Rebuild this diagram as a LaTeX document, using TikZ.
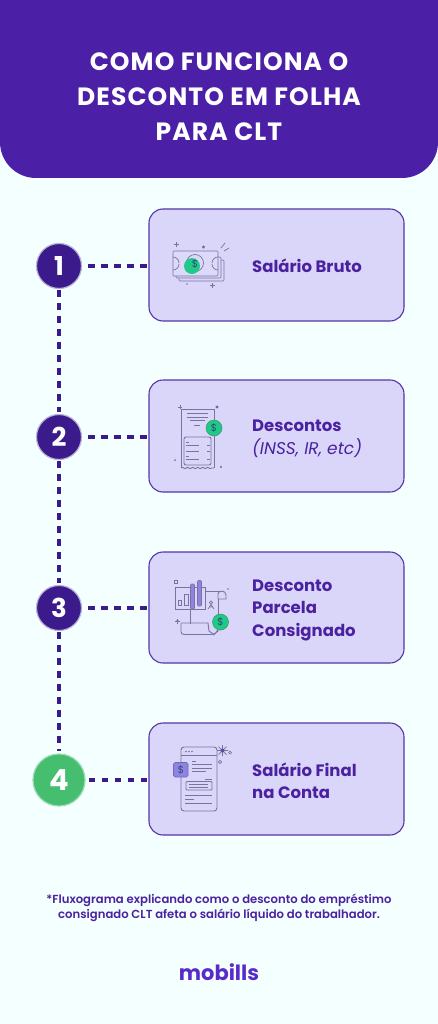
\documentclass[tikz,border=0pt]{standalone}
\usepackage{fontspec}
\setmainfont{Poppins}[BoldFont={* Bold},ItalicFont={* Italic}]
\newfontfamily\poppinsbold{Poppins Bold}
\newfontfamily\poppinstitle{Poppins Bold}[LetterSpace=4.5]
\newfontfamily\poppinssemi{Poppins SemiBold}
\usetikzlibrary{calc,decorations.pathmorphing}
\definecolor{bgc}{HTML}{F4FFFF}
\definecolor{headc}{HTML}{4B20A6}
\definecolor{cardc}{HTML}{DAD6FA}
\definecolor{edgec}{HTML}{5436A8}
\definecolor{darkc}{HTML}{3B1A8C}
\definecolor{greenc}{HTML}{45BE70}
\definecolor{icong}{HTML}{20C98A}
\definecolor{iconl}{HTML}{78749F}
\definecolor{barc}{HTML}{8E83E2}
\definecolor{textc}{HTML}{4A22A0}
\definecolor{logoc}{HTML}{5A2BCB}
\tikzset{
 cardbox/.style={draw=edgec,fill=cardc,line width=1.1pt,rounded corners=14pt,minimum width=255pt,inner sep=0pt},
 numdark/.style={circle,fill=darkc,draw=darkc!35,line width=1.2pt,minimum size=45pt,inner sep=0pt,text=white,font=\poppinsbold\fontsize{26}{26}\selectfont},
 numgreen/.style={circle,fill=greenc,draw=greenc!55,line width=1.2pt,minimum size=52pt,inner sep=0pt,text=white,font=\poppinsbold\fontsize{29}{29}\selectfont},
 link/.style={draw=darkc,line width=3.3pt,dash pattern=on 6.5pt off 6.5pt},
 label/.style={anchor=west,align=left,inner sep=0pt,text=textc,font=\fontsize{16.5}{22.5}\selectfont},
 ic/.style={draw=iconl,line width=.7pt},
 ict/.style={draw=iconl,line width=.9pt},
 dollar/.style={text=darkc!80!green,inner sep=0pt,font=\fontsize{10}{10}\selectfont},
}
\begin{document}
\begin{tikzpicture}[x=1pt,y=-1pt]
\useasboundingbox (0,0) rectangle (438,1024);
\fill[bgc] (0,0) rectangle (438,1024);
\fill[headc] (0,0) -- (438,0) -- (438,142) arc[start angle=0,end angle=90,radius=36] -- (36,178) arc[start angle=90,end angle=180,radius=36] -- cycle;
\node[text=white,align=center,font=\poppinstitle\fontsize{25}{35}\selectfont] (title) at (219,97) {COMO FUNCIONA O\\DESCONTO EM FOLHA\\PARA CLT};
% cards
\node[cardbox,minimum height=112pt] (c1) at (276.5,265) {};
\node[cardbox,minimum height=112pt] (c2) at (276.5,436) {};
\node[cardbox,minimum height=111pt] (c3) at (276.5,607.5) {};
\node[cardbox,minimum height=112pt] (c4) at (276.5,779) {};
% circles
\node[numdark] (n1) at (59,266) {1};
\node[numdark] (n2) at (59,437) {2};
\node[numdark] (n3) at (59,608) {3};
\node[numgreen] (n4) at (59,780) {4};
% connectors
\begin{scope}[shorten <=6pt]
\draw[link] (n1.east) -- (n1 -| c1.west);
\draw[link] (n2.east) -- (n2 -| c2.west);
\draw[link] (n3.east) -- (n3 -| c3.west);
\end{scope}
\draw[link,shorten <=3pt] (n4.east) -- (n4 -| c4.west);
\begin{scope}[shorten <=1pt,shorten >=2pt]
\draw[link] (n1.south) -- (n2.north);
\draw[link] (n2.south) -- (n3.north);
\draw[link] (n3.south) -- (n4.north);
\end{scope}
% labels
\node[label] (l1) at (252,265.5) {\textbf{Salário Bruto}};
\node[label] (l2) at (252,439) {\textbf{Descontos}\\{\fontsize{17}{22.5}\selectfont\textit{(INSS, IR, etc)}}};
\node[label] (l3) at (252,610) {\textbf{Desconto}\\\textbf{Parcela}\\\textbf{Consignado}};
\node[label] (l4) at (252,780.5) {\textbf{Salário Final}\\\textbf{na Conta}};
% icon 1
\draw[ic,fill=cardc,rounded corners=1pt] (179,260) -- (224,260) -- (224,281) -- (179,281) -- cycle;
\draw[ic,fill=cardc,rounded corners=1pt] (176,257) -- (221,257) -- (221,278) -- (176,278) -- cycle;
\draw[ic,fill=cardc!92!white,rounded corners=1pt] (173,251) -- (218,251) -- (218,276) -- (173,276) -- cycle;
\draw[ic] (173,257) arc[start angle=-90,end angle=0,radius=6];
\draw[ic] (218,257) arc[start angle=270,end angle=180,radius=6];
\draw[ic] (173,270) arc[start angle=90,end angle=0,radius=6];
\draw[ic] (218,270) arc[start angle=90,end angle=180,radius=6];
\draw[ic] (195,263) circle[radius=8.5];
\fill[icong] (192,266) circle[radius=8];
\node[dollar] at (195,263.5) {\$};
\draw[ic] (221,248) -- (225,243) (224,251) -- (229,248);
\draw[ic] (176.5,242) -- (176.5,247) (174,244.5) -- (179,244.5);
\fill[darkc!70] (203.5,247) circle[radius=1.6];
\fill[darkc!70] (212.5,285.5) circle[radius=1.4];
\draw[ic] (210,285.5) -- (215,285.5) (212.5,283) -- (212.5,288);
\fill[iconl] (187,284) circle[radius=.9];
% icon 2
\draw[ict] (181,468) -- (181,409) -- (214,409) -- (214,468);
\draw[ict,rounded corners=2pt] (184,437) rectangle (211,465);
\draw[ict,decorate,decoration={snake,amplitude=.6pt,segment length=5pt}] (181,468) -- (214,468);
\draw[ic] (187,413.5) -- (208,413.5) (187,417) -- (208,417) (190,420.5) -- (205,420.5) (194,425) -- (200,425);
\draw[ic] (186,442) -- (189,442) (186,445.5) -- (199,445.5) (207,445.5) -- (210,445.5) (186,451) -- (199,451) (207,451) -- (210,451) (186,456) -- (189,456) (186,459.5) -- (199,459.5) (207,459.5) -- (210,459.5);
\draw[ic] (178,407) -- (182,407) (180,405) -- (180,409);
\fill[darkc!70] (217,407) circle[radius=1.7];
\fill[iconl] (175,460) circle[radius=1];
\fill[darkc!70] (221,467) circle[radius=1.2];
\filldraw[fill=icong,draw=greenc!80!black,line width=.5pt] (214,428) circle[radius=8];
\node[dollar] at (214,428) {\$};
% icon 3
\draw[ict,fill=cardc] (175,587) rectangle (205,609);
\draw[ict,fill=cardc] (178,600) rectangle (181.5,605.5);
\draw[ict,fill=cardc] (184.5,594) rectangle (188,605.5);
\filldraw[draw=iconl,fill=barc,line width=.6pt,rounded corners=1pt] (190.5,584) rectangle (194.5,609);
\filldraw[draw=iconl,fill=barc,line width=.6pt,rounded corners=1pt] (197.5,580.5) rectangle (201.5,606);
\draw[ict] (205,591) -- (221,591);
\draw[ict] (218,599) -- (218,594) .. controls (218,590) and (226,590) .. (226,595) -- (226,599) -- (218,599);
\draw[ict] (218,599) -- (218,624) (190.5,609) -- (190.5,624);
\draw[ict,rounded corners=3pt] (181,623) -- (181,634.5) -- (214,634.5) -- (218,631) -- (218,628);
\draw[ict] (181,623) -- (208,623) -- (209,631) -- (214,634.5);
\draw[ic] (174,580) rectangle (177,583);
\draw[ic] (211,602.5) circle[radius=1.7];
\draw[ic] (208,609) -- (211,604.5) -- (214,609) (209,607) -- (213,607);
\fill[darkc!70] (177.5,621) circle[radius=1.4];
\draw[ic] (175,621) -- (180,621) (177.5,618.5) -- (177.5,623.5);
\fill[iconl] (228,589) circle[radius=.9];
\filldraw[fill=icong,draw=greenc!80!black,line width=.5pt] (220.5,622) circle[radius=8];
\node[dollar] at (220.5,622) {\$};
% icon 4
\draw[ict,rounded corners=3pt] (181,747) rectangle (217,811);
\draw[ict] (181,755) -- (217,755);
\fill[iconl] (186,751.5) circle[radius=.9] (189,751.5) circle[radius=.9] (192,751.5) circle[radius=.9];
\draw[ic] (192,761.5) -- (196,761.5);
\draw[ic] (192,764.5) -- (212,764.5) (192,768) -- (212,768) (192,771.5) -- (206,771.5);
\draw[ic] (205,779) -- (212,779);
\draw[ict,rounded corners=1pt] (186,781.5) rectangle (212,790);
\draw[ic] (189,784) -- (208,784) (189,787.5) -- (208,787.5);
\draw[ic] (185,795) -- (212,795) (185,799) -- (194,799) (185,803) -- (212,803);
\filldraw[draw=barc!80!black,fill=barc,line width=.6pt,rounded corners=1.5pt] (173.5,762.5) rectangle (188,777);
\node[dollar] at (181,770) {\$};
\draw[ic] (222.5,745) -- (222.5,756) (217,750.5) -- (228,750.5) (218.5,746.5) -- (226.5,754.5) (218.5,754.5) -- (226.5,746.5);
\fill[darkc!80] (222.5,750.5) circle[radius=2];
\draw[ic] (230,752.5) circle[radius=1.5];
\draw[ic] (220,762) circle[radius=1.7];
% footnote
\node[text=textc,align=center,font=\poppinssemi\fontsize{11.65}{15}\selectfont] (foot) at (219,908) {*Fluxograma explicando como o desconto do empréstimo\\consignado CLT afeta o salário líquido do trabalhador.};
\node[text=logoc,font=\poppinsbold\fontsize{21}{21}\selectfont] (logo) at (219,972) {mobills};
\end{tikzpicture}
\end{document}
